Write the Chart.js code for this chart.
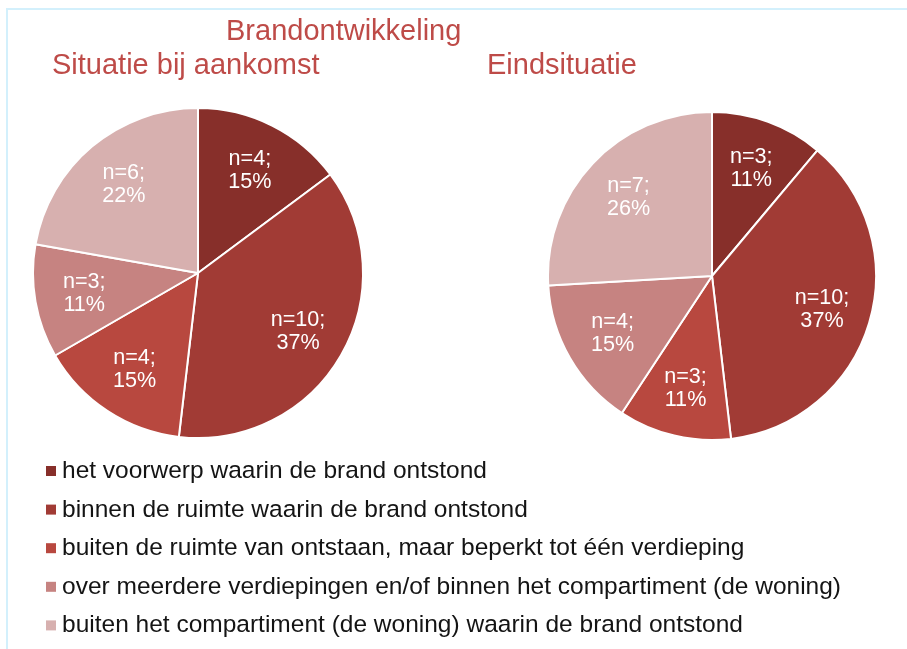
<!DOCTYPE html>
<html>
<head>
<meta charset="utf-8">
<script src="https://cdn.jsdelivr.net/npm/chart.js@4/dist/chart.umd.min.js"></script>
<style>
  html, body { margin: 0; padding: 0; background: #fff; }
  #page { position: relative; width: 907px; height: 649px; overflow: hidden; }
  #frame {
    position: absolute; left: 6px; top: 8px; right: -4px; bottom: -4px;
    border-top: 2px solid #d3f0fc; border-left: 2px solid #d3f0fc;
  }
  #left { position: absolute; left: 0; top: 0; }
  #right { position: absolute; left: 547px; top: 111px; }
</style>
</head>
<body>
<div id="page">
  <div id="frame"></div>
  <canvas id="left" width="907" height="649"></canvas>
  <canvas id="right" width="330" height="330"></canvas>
</div>
<script>
/* Two pies (arrival vs. final situation), shared legend under them. */
(function () {
  const CATEGORIES = [
    "het voorwerp waarin de brand ontstond",
    "binnen de ruimte waarin de brand ontstond",
    "buiten de ruimte van ontstaan, maar beperkt tot één verdieping",
    "over meerdere verdiepingen en/of binnen het compartiment (de woning)",
    "buiten het compartiment (de woning) waarin de brand ontstond",
  ];
  const ARRIVAL = [4, 10, 4, 3, 6];   // Situatie bij aankomst
  const FINAL = [3, 10, 3, 4, 7];     // Eindsituatie

  const MAIN_TITLE = "Brandontwikkeling";
  const LEFT_TITLE = "Situatie bij aankomst";
  const RIGHT_TITLE = "Eindsituatie";

  const SLICE_COLORS = ["#872F2A", "#A13B35", "#B8483F", "#C68381", "#D7B0AF"];
  const TITLE_COLOR = "#BE4B48";
  const FONT = "'Liberation Sans', Arial, sans-serif";

  // "n=4;" / "15%" inside each slice, about 70% out from the centre
  const sliceLabels = {
    id: "sliceLabels",
    afterDatasetsDraw(chart) {
      const ctx = chart.ctx;
      const data = chart.data.datasets[0].data;
      const total = data.reduce((a, b) => a + b, 0);
      const meta = chart.getDatasetMeta(0);
      ctx.save();
      ctx.fillStyle = "#ffffff";
      ctx.font = "21.6px " + FONT;
      ctx.textAlign = "center";
      ctx.textBaseline = "middle";
      meta.data.forEach((arc, i) => {
        const p = arc.getProps(["x", "y", "startAngle", "endAngle", "outerRadius"], true);
        const mid = (p.startAngle + p.endAngle) / 2;
        const r = p.outerRadius * 0.7;
        const x = p.x + Math.cos(mid) * r;
        const y = p.y + Math.sin(mid) * r;
        const pct = Math.round((data[i] / total) * 100);
        ctx.fillText("n=" + data[i] + ";", x, y - 11);
        ctx.fillText(pct + "%", x, y + 12);
      });
      ctx.restore();
    },
  };

  // titles + legend live on the big left canvas
  const pageText = {
    id: "pageText",
    afterDraw(chart) {
      const ctx = chart.ctx;
      ctx.save();
      ctx.textBaseline = "alphabetic";
      ctx.textAlign = "left";
      ctx.fillStyle = TITLE_COLOR;
      ctx.font = "29px " + FONT;
      ctx.fillText(MAIN_TITLE, 226, 40);
      ctx.fillText(LEFT_TITLE, 52, 74);
      ctx.fillText(RIGHT_TITLE, 487, 74);

      ctx.font = "24.5px " + FONT;
      CATEGORIES.forEach((label, i) => {
        const base = 478 + i * 38.6;
        ctx.fillStyle = SLICE_COLORS[i];
        ctx.fillRect(46, base - 12, 10, 10);
        ctx.fillStyle = "#141414";
        ctx.fillText(label, 62, base);
      });
      ctx.restore();
    },
  };

  function pieConfig(values, padding, extraPlugins) {
    return {
      type: "pie",
      data: {
        labels: CATEGORIES,
        datasets: [{
          data: values,
          backgroundColor: SLICE_COLORS,
          borderColor: "#ffffff",
          borderWidth: 2,
        }],
      },
      options: {
        responsive: false,
        animation: false,
        layout: { padding },
        plugins: {
          legend: { display: false },
          tooltip: { enabled: false },
        },
      },
      plugins: [sliceLabels].concat(extraPlugins),
    };
  }

  new Chart(document.getElementById("left"),
    pieConfig(ARRIVAL, { left: 32, top: 107, right: 543, bottom: 210 }, [pageText]));
  new Chart(document.getElementById("right"),
    pieConfig(FINAL, 0, []));
})();
</script>
</body>
</html>
